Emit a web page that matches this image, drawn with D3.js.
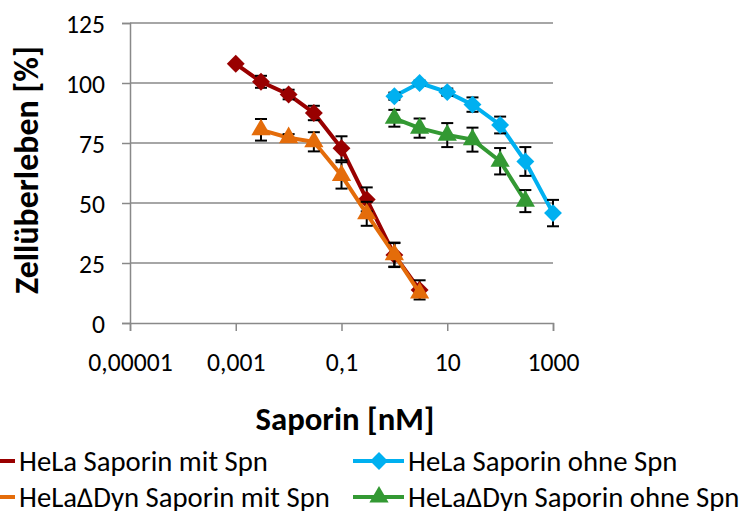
<!DOCTYPE html>
<html>
<head>
<meta charset="utf-8">
<script src="https://cdn.jsdelivr.net/npm/d3@7"></script>
<style>
  body { margin: 0; background: #fff; }
  svg text { font-family: Carlito, Lato, "Open Sans", sans-serif; fill: #000; }
</style>
</head>
<body>
<div id="plot"></div>
<script>
// concentrations in nM
const doseMit = [0.001, 0.003, 0.01, 0.03, 0.1, 0.3, 1, 3];
const doseDynMit = [0.003, 0.01, 0.03, 0.1, 0.3, 1, 3];
const doseOhne = [1, 3, 10, 30, 100, 300, 1000];
const doseDynOhne = [1, 3, 10, 30, 100, 300];

// Zellüberleben in %
const helaMit = [108, 100.5, 95.2, 87.5, 72.8, 51.5, 28.3, 13.8];
const helaMitErr = [0, 2.5, 2, 3, 5, 5, 5, 4];
const dynMit = [80.5, 77.2, 75.5, 61.5, 45.5, 28.5, 12.5];
const dynMitErr = [4.5, 1.5, 4, 5.5, 5, 5, 0];
const helaOhne = [94.5, 100, 96.2, 91, 82.5, 67.3, 45.8];
const helaOhneErr = [1.5, 1, 1.5, 3, 3.5, 6, 5.5];
const dynOhne = [85.3, 81.2, 78.3, 76.4, 67.4, 50.8];
const dynOhneErr = [3.5, 4, 5, 5, 5.5, 4.6];

const xTicks = [0.00001, 0.001, 0.1, 10, 1000];
const yTicks = [0, 25, 50, 75, 100, 125];

const series = [
  {name: "HeLa Saporin mit Spn", x: doseMit, y: helaMit, err: helaMitErr, color: "#990000", shape: "diamond"},
  {name: "HeLa\u2206Dyn Saporin mit Spn", x: doseDynMit, y: dynMit, err: dynMitErr, color: "#E46C0A", shape: "triangle"},
  {name: "HeLa Saporin ohne Spn", x: doseOhne, y: helaOhne, err: helaOhneErr, color: "#00B0F0", shape: "diamond"},
  {name: "HeLa\u2206Dyn Saporin ohne Spn", x: doseDynOhne, y: dynOhne, err: dynOhneErr, color: "#339933", shape: "triangle"}
];

const w = 742;
const h = 511;
const gray = "#898989";

const svg = d3.select("#plot").append("svg")
  .attr("width", w)
  .attr("height", h);

// scale font size of a text selection so that one sample element gets the wanted width
function fitFont(sel, sample, width) {
  const size = parseFloat(sample.style("font-size"));
  const len = sample.node().getComputedTextLength();
  sel.style("font-size", (size * width / len) + "px");
}

const x = d3.scaleLog().domain([0.00001, 1000]).range([130, 553]);
const y = d3.scaleLinear().domain([0, 125]).range([323, 23]);

//-------------------------grid + axes-------------------------
svg.append("g")
  .selectAll("line")
  .data(yTicks.slice(1))
  .enter()
  .append("line")
  .attr("x1", x.range()[0]).attr("x2", x.range()[1])
  .attr("y1", d => y(d)).attr("y2", d => y(d))
  .attr("stroke", gray).attr("stroke-width", 1.5);

const yAxis = svg.append("g")
  .attr("transform", "translate(130,0)")
  .call(d3.axisLeft(y).tickValues(yTicks).tickSize(8).tickPadding(17).tickFormat(d3.format("d")));

const xAxis = svg.append("g")
  .attr("transform", "translate(0,323)")
  .call(d3.axisBottom(x).tickValues(xTicks).tickSize(8).tickPadding(0)
    .tickFormat(d => d < 1 ? d.toFixed(-Math.round(Math.log10(d))).replace(".", ",") : String(d)));

[xAxis, yAxis].forEach(a => {
  a.select(".domain").attr("stroke", gray).attr("stroke-width", 1.5);
  a.selectAll(".tick line").attr("stroke", gray).attr("stroke-width", 1.5);
  a.selectAll(".tick text").style("font-size", "20px").attr("fill", "#000");
});
const tickTexts = svg.selectAll(".tick text");
fitFont(tickTexts, xAxis.selectAll(".tick text").filter(d => d === 1000), 52);
xAxis.selectAll(".tick text").attr("dy", null).attr("y", 48);
yAxis.selectAll(".tick text").attr("dy", "0.36em");

const yTitle = svg.append("text")
  .attr("transform", "translate(38,170) rotate(-90)")
  .attr("text-anchor", "middle")
  .style("font-size", "23px").style("font-weight", "bold")
  .text("Zellüberleben [%]");
fitFont(yTitle, yTitle, 248);

const xTitle = svg.append("text")
  .attr("x", 345).attr("y", 430)
  .attr("text-anchor", "middle")
  .style("font-size", "23px").style("font-weight", "bold")
  .text("Saporin [nM]");
fitFont(xTitle, xTitle, 179);

//-------------------------series-------------------------
const line = d3.line().x(d => x(d[0])).y(d => y(d[1]));
const symDiamond = d3.symbol().type(d3.symbolSquare).size(160);
const symTriangle = d3.symbol().type(d3.symbolTriangle).size(160);

series.forEach(s => {
  const pts = s.x.map((v, i) => [v, s.y[i], s.err[i]]);
  const g = svg.append("g");

  g.append("path")
    .datum(pts)
    .attr("d", line)
    .attr("fill", "none")
    .attr("stroke", s.color)
    .attr("stroke-width", 4);

  const eb = g.selectAll(".err").data(pts.filter(p => p[2] > 0)).enter().append("g");
  eb.append("line")
    .attr("x1", d => x(d[0])).attr("x2", d => x(d[0]))
    .attr("y1", d => y(d[1] + d[2])).attr("y2", d => y(d[1] - d[2]))
    .attr("stroke", "#000").attr("stroke-width", 2);
  [1, -1].forEach(sign => {
    eb.append("line")
      .attr("x1", d => x(d[0]) - 6).attr("x2", d => x(d[0]) + 6)
      .attr("y1", d => y(d[1] + sign * d[2])).attr("y2", d => y(d[1] + sign * d[2]))
      .attr("stroke", "#000").attr("stroke-width", 2);
  });

  g.selectAll(".mark").data(pts).enter().append("path")
    .attr("d", s.shape === "diamond" ? symDiamond : symTriangle)
    .attr("transform", d => "translate(" + x(d[0]) + "," + y(d[1]) + ")" + (s.shape === "diamond" ? " rotate(45)" : ""))
    .attr("fill", s.color);
});

//-------------------------legend-------------------------
const legendPos = [[-36, 461], [-36, 497], [353, 461], [353, 497]];
const legendTexts = [];
series.forEach((s, i) => {
  const [lx, ly] = legendPos[i];
  const g = svg.append("g").attr("transform", "translate(" + lx + "," + ly + ")");
  g.append("line").attr("x1", 0).attr("x2", 51).attr("y1", 0).attr("y2", 0)
    .attr("stroke", s.color).attr("stroke-width", 4);
  g.append("path")
    .attr("d", s.shape === "diamond" ? symDiamond : symTriangle)
    .attr("transform", "translate(26,0)" + (s.shape === "diamond" ? " rotate(45)" : ""))
    .attr("fill", s.color);
  legendTexts.push(g.append("text").attr("x", 55).attr("y", 10)
    .style("font-size", "20px")
    .text(s.name).node());
});
fitFont(d3.selectAll(legendTexts), d3.select(legendTexts[0]), 249);
</script>
</body>
</html>
